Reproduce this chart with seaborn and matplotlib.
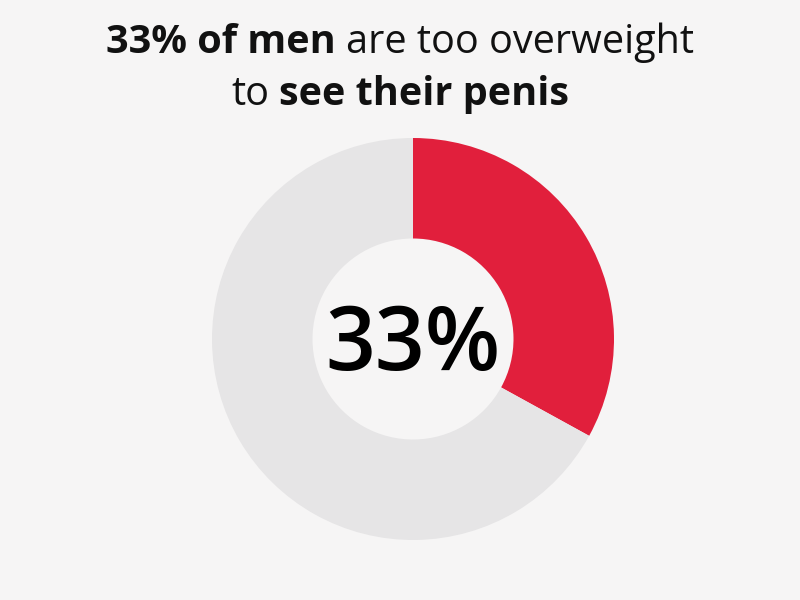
import matplotlib.pyplot as plt
import seaborn as sns

# data
shares = [33, 67]
slice_names = ["Too overweight to see", "Others"]
slice_colors = ["#e11f3c", "#e6e5e6"]
center_label = "33%"
title_lines = [
    [("33% of men", "bold"), ("are too overweight", "normal")],
    [("to", "normal"), ("see their penis", "bold")],
]

bg = "#f6f5f5"
sns.set_theme(style="white")
plt.rcParams["font.family"] = ["Open Sans", "DejaVu Sans"]

fig = plt.figure(figsize=(8, 6), dpi=100, facecolor=bg)
ax = fig.add_axes([0.265, 0.1, 0.5025, 0.67])
ax.set_facecolor(bg)
ax.pie(shares, colors=slice_colors, startangle=90, counterclock=False, radius=1,
       wedgeprops=dict(width=0.5, edgecolor="none"))
ax.set_xlim(-1, 1)
ax.set_ylim(-1, 1)
ax.set_aspect("equal")
ax.axis("off")
ax.text(0, -0.154, center_label, ha="center", va="baseline", fontsize=63,
        fontweight="semibold", color="black")

# title with mixed weights, laid out piece by piece
renderer = fig.canvas.get_renderer()
title_size = 28.5
W, H = 800, 600


def text_width(s, weight):
    t = fig.text(0, 0, s, fontsize=title_size, fontweight=weight)
    w = t.get_window_extent(renderer).width
    t.remove()
    return w


space = text_width("a a", "normal") - text_width("aa", "normal")
baselines = [53, 105]
for parts, base in zip(title_lines, baselines):
    widths = [text_width(s, wt) for s, wt in parts]
    total = sum(widths) + space * (len(parts) - 1)
    x = W / 2 - total / 2
    for (s, wt), w in zip(parts, widths):
        fig.text(x / W, 1 - base / H, s, fontsize=title_size, fontweight=wt,
                 color="#111111", va="baseline", ha="left")
        x += w + space

fig.savefig("out.png", dpi=100, facecolor=bg)
